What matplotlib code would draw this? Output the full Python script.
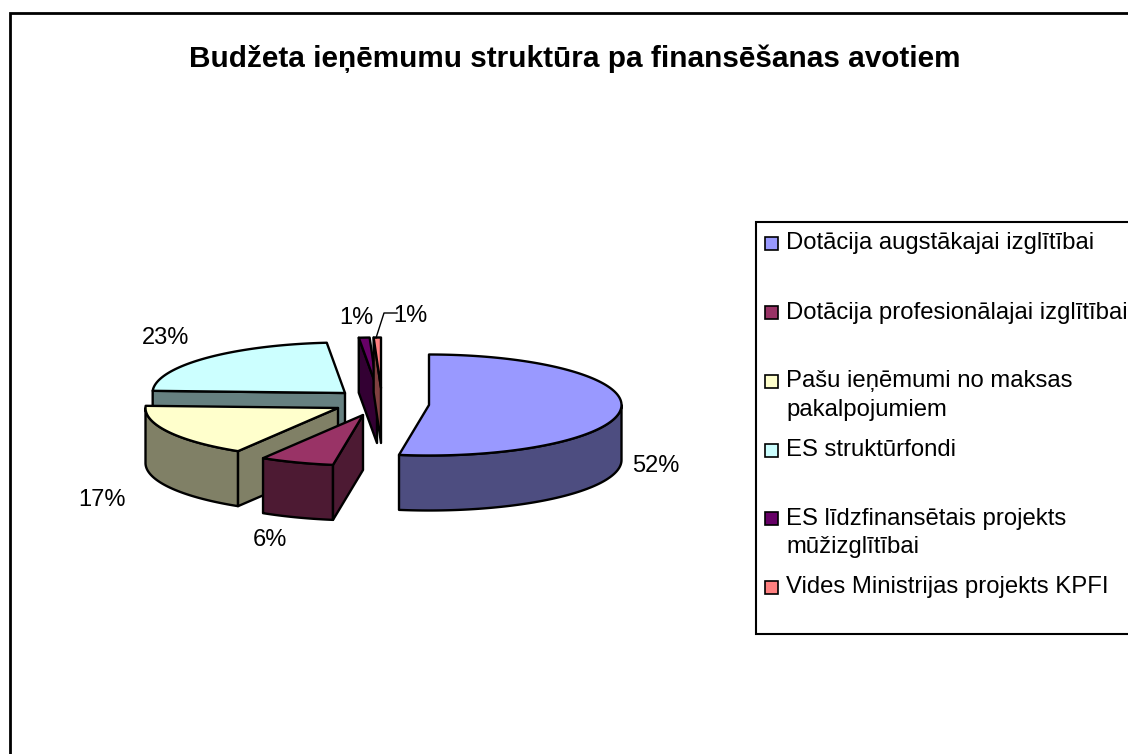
"""
Budzeta ienemumu struktura - pie 3D estilo Excel, dibujado con poligonos.
"""
import numpy as np
import matplotlib
matplotlib.use("Agg")
import matplotlib.pyplot as plt
from matplotlib.patches import Polygon, Rectangle

plt.rcParams["font.family"] = ["Liberation Sans", "DejaVu Sans"]

TITLE = "Budžeta ieņēmumu struktūra pa finansēšanas avotiem"
NAMES = ["Dotācija augstākajai izglītībai", "Dotācija profesionālajai izglītībai",
         "Pašu ieņēmumi no maksas\npakalpojumiem", "ES struktūrfondi",
         "ES līdzfinansētais projekts\nmūžizglītībai", "Vides Ministrijas projekts KPFI"]
VALUES = [52.49, 6.2, 17.0, 22.8, 0.9, 0.61]
LABELS = ["52%", "6%", "17%", "23%", "1%", "1%"]

TOPS = ["#9999FF", "#993366", "#FFFFCC", "#CCFFFF", "#660066", "#FF8080"]
WALLS = ["#4D4D80", "#4D1A33", "#808066", "#668080", "#330033", "#804040"]

# posiciones en pixeles de la imagen
APEX = [(429, 405), (363, 415), (338, 408), (345, 393), (377, 388), (381, 388)]
RX, RY, DEPTH = 192.5, 50.5, 55
LABEL_XY = [(656, 466.5), (270, 540.5), (102, 500.5), (166, 338.5), (356, 318.5), (410, 316.5)]
LEGEND_Y = [243, 312, 381, 450, 518, 587]
LW = 1.7

fig = plt.figure(figsize=(11.28, 7.54), dpi=100)
ax = fig.add_axes([0, 0, 1, 1])
ax.set_xlim(0, 1128); ax.set_ylim(754, 0); ax.axis("off")

# marco exterior, abierto a la derecha y abajo
ax.plot([9.5, 9.5, 1128], [754, 13, 13], color="k", lw=2, solid_joinstyle="miter")
ax.text(574.5, 59, TITLE, ha="center", va="center", fontsize=21.4, fontweight="bold")


def arc(apex, t0, t1):
    t = np.radians(np.linspace(t0, t1, max(int(abs(t1 - t0)) * 2, 2)))
    return np.column_stack([apex[0] + RX * np.sin(t), apex[1] - RY * np.cos(t)])


def extrude(pts):
    return np.vstack([pts, (pts + [0, DEPTH])[::-1]])


def face(pts, color):
    ax.add_patch(Polygon(pts, closed=True, fc=color, ec="k", lw=LW, joinstyle="round"))


edges = np.concatenate([[0], np.cumsum(VALUES)]) / np.sum(VALUES) * 360
for i in [0, 3, 2, 1, 4, 5]:
    t0, t1 = edges[i], edges[i + 1]
    apex = np.array(APEX[i], dtype=float)
    lo, hi = max(t0, 90), min(t1, 270)
    if hi > lo:
        face(extrude(arc(apex, lo, hi)), WALLS[i])
    if np.sin(np.radians(t0)) < -1e-6:
        face(extrude(np.vstack([apex, arc(apex, t0, t0 + 1e-6)[0]])), WALLS[i])
    if np.sin(np.radians(t1)) > 1e-6:
        face(extrude(np.vstack([apex, arc(apex, t1, t1 + 1e-6)[0]])), WALLS[i])
    face(np.vstack([apex, arc(apex, t0, t1)]), TOPS[i])

for (x, y), s in zip(LABEL_XY, LABELS):
    ax.text(x, y, s, ha="center", va="center", fontsize=17)
ax.plot([376, 384, 397], [338, 313, 313], color="k", lw=1)

# leyenda
ax.plot([1128, 755.5, 755.5, 1128], [221.5, 221.5, 634, 634], color="k", lw=1.5, solid_joinstyle="miter")
for y, name, c in zip(LEGEND_Y, NAMES, TOPS):
    ax.add_patch(Rectangle((765, y - 6.5), 13, 13, fc=c, ec="k", lw=1.2))
    ax.text(786, y - 10.5, name, ha="left", va="top", fontsize=17.2, linespacing=1.4)

fig.savefig("out.png", dpi=100)
